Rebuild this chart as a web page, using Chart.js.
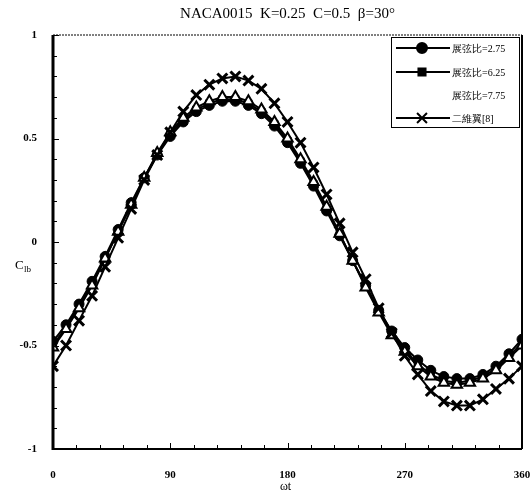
<!DOCTYPE html>
<html>
<head>
<meta charset="utf-8">
<script src="https://cdn.jsdelivr.net/npm/chart.js@4.4.1/dist/chart.umd.min.js"></script>
<style>
	html, body { margin: 0; padding: 0; background: #fff; }
	#wrap { width: 532px; height: 500px; }
</style>
</head>
<body>
<div id="wrap"><canvas id="chartCl" width="532" height="500"></canvas></div>
<script>
'use strict'

// phase angle (deg)
const angles = [0, 10, 20, 30, 40, 50, 60, 70, 80, 90, 100, 110, 120, 130, 140, 150, 160, 170, 180,
	190, 200, 210, 220, 230, 240, 250, 260, 270, 280, 290, 300, 310, 320, 330, 340, 350, 360];

const cl275 = [-0.48, -0.40, -0.30, -0.19, -0.07, 0.06, 0.19, 0.31, 0.42, 0.51, 0.58, 0.63, 0.66, 0.68, 0.68, 0.66, 0.62, 0.56, 0.48,
	0.38, 0.27, 0.15, 0.03, -0.09, -0.21, -0.33, -0.43, -0.51, -0.57, -0.62, -0.65, -0.66, -0.66, -0.64, -0.60, -0.54, -0.47];
const cl625 = [-0.50, -0.41, -0.31, -0.20, -0.08, 0.05, 0.18, 0.31, 0.42, 0.52, 0.59, 0.64, 0.67, 0.69, 0.69, 0.67, 0.63, 0.57, 0.49,
	0.39, 0.28, 0.16, 0.04, -0.09, -0.21, -0.33, -0.44, -0.52, -0.59, -0.64, -0.67, -0.68, -0.67, -0.65, -0.61, -0.55, -0.49];
const cl775 = [-0.51, -0.42, -0.32, -0.21, -0.08, 0.05, 0.18, 0.31, 0.43, 0.53, 0.60, 0.65, 0.68, 0.70, 0.70, 0.68, 0.64, 0.58, 0.50,
	0.40, 0.29, 0.17, 0.04, -0.09, -0.22, -0.34, -0.45, -0.53, -0.60, -0.65, -0.68, -0.69, -0.68, -0.66, -0.62, -0.56, -0.50];
const cl2d = [-0.60, -0.50, -0.38, -0.26, -0.12, 0.02, 0.16, 0.30, 0.42, 0.53, 0.63, 0.71, 0.76, 0.79, 0.80, 0.78, 0.74, 0.67, 0.58,
	0.48, 0.36, 0.23, 0.09, -0.05, -0.18, -0.32, -0.44, -0.55, -0.64, -0.72, -0.77, -0.79, -0.79, -0.76, -0.71, -0.66, -0.60];

const seriesNames = ['展弦比=2.75', '展弦比=6.25', '展弦比=7.75', '二維翼[8]'];
const xTicks = [0, 90, 180, 270, 360];
const yTicks = [-1, -0.5, 0, 0.5, 1];

const titleText = 'NACA0015  K=0.25  C=0.5  β=30°';
const serif = '"Liberation Serif", "DejaVu Serif", serif';

const toPoints = (vals) => vals.map((v, i) => ({ x: angles[i], y: v }));

const styles = [
	{ pointStyle: 'circle', radius: 5, fill: '#000', bw: 1, legend: true },
	{ pointStyle: 'rect', radius: 5, fill: '#000', bw: 1, legend: true },
	{ pointStyle: 'triangle', radius: 6, fill: '#fff', bw: 2, legend: false },
	{ pointStyle: 'crossRot', radius: 7, fill: '#000', bw: 3, legend: true },
];
const allSeries = [cl275, cl625, cl775, cl2d];

const datasets = allSeries.map((vals, i) => ({
	label: seriesNames[i],
	data: toPoints(vals),
	borderColor: '#000',
	borderWidth: 2,
	pointStyle: styles[i].pointStyle,
	pointRadius: styles[i].radius,
	pointBackgroundColor: styles[i].fill,
	pointBorderColor: '#000',
	pointBorderWidth: styles[i].bw,
	tension: 0,
	order: 4 - i,
}));

// frame, minor ticks, title, axis titles, legend
const decorations = {
	id: 'decorations',
	afterDraw(chart) {
		const { ctx, chartArea: { left, right, top, bottom }, scales: { x, y } } = chart;
		ctx.save();
		ctx.strokeStyle = '#000';

		// frame
		ctx.lineWidth = 1;
		ctx.setLineDash([2, 1]);
		ctx.beginPath(); ctx.moveTo(left, top); ctx.lineTo(right, top); ctx.stroke();
		ctx.setLineDash([]);
		ctx.lineWidth = 2;
		ctx.beginPath(); ctx.moveTo(right, top); ctx.lineTo(right, bottom); ctx.stroke();
		ctx.beginPath(); ctx.moveTo(left, bottom); ctx.lineTo(right, bottom); ctx.stroke();
		ctx.lineWidth = 3;
		ctx.beginPath(); ctx.moveTo(left, top); ctx.lineTo(left, bottom + 1); ctx.stroke();

		// inward ticks
		ctx.lineWidth = 1;
		for (let v = -1; v <= 1.0001; v += 0.1) {
			const py = Math.round(y.getPixelForValue(v)) + 0.5;
			const major = Math.abs(v * 2 - Math.round(v * 2)) < 1e-6;
			ctx.beginPath(); ctx.moveTo(left, py); ctx.lineTo(left + (major ? 6 : 4), py); ctx.stroke();
		}
		for (let a = 0; a <= 360; a += 18) {
			const px = Math.round(x.getPixelForValue(a)) + 0.5;
			ctx.beginPath(); ctx.moveTo(px, bottom); ctx.lineTo(px, bottom - (a % 90 === 0 ? 6 : 4)); ctx.stroke();
		}

		// title
		ctx.fillStyle = '#000';
		ctx.font = '15px ' + serif;
		ctx.textAlign = 'center';
		ctx.textBaseline = 'middle';
		ctx.fillText(titleText, (left + right) / 2, 14);

		// y title with subscript
		ctx.font = '13px ' + serif;
		ctx.textAlign = 'left';
		ctx.fillText('C', 15, 266);
		ctx.font = '9px ' + serif;
		ctx.fillText('lb', 24, 270);

		// x title
		ctx.font = '12px ' + serif;
		ctx.textAlign = 'center';
		ctx.fillText('ωt', (left + right) / 2 - 2, 487);

		// legend box
		const bx = 391, by = 37, bw = 128, bh = 90;
		ctx.fillStyle = '#fff';
		ctx.fillRect(bx, by, bw, bh);
		ctx.lineWidth = 1;
		ctx.strokeRect(bx + 0.5, by + 0.5, bw, bh);
		const rows = [48, 72, 95, 118];
		seriesNames.forEach((name, i) => {
			const ry = rows[i];
			const st = styles[i];
			if (st.legend) {
				ctx.strokeStyle = '#000';
				ctx.lineWidth = 2;
				ctx.beginPath(); ctx.moveTo(396, ry); ctx.lineTo(450, ry); ctx.stroke();
				ctx.fillStyle = st.fill;
				Chart.helpers.drawPoint(ctx, {
					pointStyle: st.pointStyle, radius: st.radius, rotation: 0, borderWidth: st.bw,
				}, 422, ry);
			}
			ctx.fillStyle = '#000';
			ctx.font = '10px ' + serif;
			ctx.textAlign = 'left';
			ctx.fillText(name, 452, ry + 1);
		});
		ctx.restore();
	},
};

new Chart(document.getElementById('chartCl'), {
	type: 'line',
	data: { datasets: datasets },
	options: {
		responsive: false,
		animation: false,
		layout: { padding: { left: 0, right: 8, top: 35, bottom: 0 } },
		plugins: {
			legend: { display: false },
			tooltip: { enabled: false },
			title: { display: false },
		},
		scales: {
			x: {
				type: 'linear',
				min: 0,
				max: 360,
				afterFit(axis) { axis.height = 51; axis.paddingRight = 0; axis.paddingLeft = 0; },
				afterBuildTicks(axis) { axis.ticks = xTicks.map(v => ({ value: v })); },
				border: { display: false },
				grid: { display: false },
				ticks: {
					color: '#000',
					padding: 12,
					maxRotation: 0,
					font: { family: serif, size: 11, weight: 'bold' },
				},
			},
			y: {
				min: -1,
				max: 1,
				afterFit(axis) { axis.width = 53; axis.paddingTop = 0; axis.paddingBottom = 0; },
				afterBuildTicks(axis) { axis.ticks = yTicks.map(v => ({ value: v })); },
				border: { display: false },
				grid: { display: false },
				ticks: {
					color: '#000',
					padding: 8,
					font: { family: serif, size: 11, weight: 'bold' },
					callback: (v) => String(v),
				},
			},
		},
	},
	plugins: [decorations],
});
</script>
</body>
</html>
